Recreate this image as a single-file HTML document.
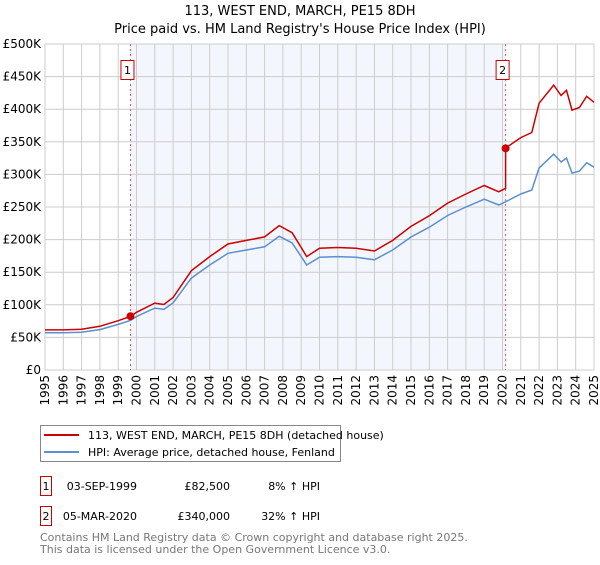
<!DOCTYPE html>
<html><head><meta charset="utf-8"><style>
body{margin:0;background:#fff;font-family:"Liberation Sans","DejaVu Sans",sans-serif;}
svg text{font-family:"DejaVu Sans","Liberation Sans",sans-serif;}
</style></head><body>
<svg id="chart" width="600" height="560" xmlns="http://www.w3.org/2000/svg">
<text x="300" y="15" text-anchor="middle" font-size="13">113, WEST END, MARCH, PE15 8DH</text>
<text x="300" y="33" text-anchor="middle" font-size="13">Price paid vs. HM Land Registry's House Price Index (HPI)</text>
<g id="plot"></g>
<g>
<rect x="40.5" y="425.5" width="300" height="36" fill="#fff" stroke="#888"/>
<line x1="44" y1="435" x2="79" y2="435" stroke="#cc0000" stroke-width="2"/>
<text x="88" y="439" font-size="11">113, WEST END, MARCH, PE15 8DH (detached house)</text>
<line x1="44" y1="452" x2="79" y2="452" stroke="#5b8fd0" stroke-width="2"/>
<text x="88" y="456" font-size="11">HPI: Average price, detached house, Fenland</text>
</g>
<g font-size="11">
<rect x="40.5" y="476.5" width="11" height="19" fill="#fff" stroke="#cc0000"/>
<text x="46" y="490" text-anchor="middle">1</text>
<text x="137" y="490" text-anchor="end">03-SEP-1999</text>
<text x="230" y="490" text-anchor="end">£82,500</text>
<text x="320" y="490" text-anchor="end">8% ↑ HPI</text>
<rect x="40.5" y="506.5" width="11" height="19" fill="#fff" stroke="#cc0000"/>
<text x="46" y="520" text-anchor="middle">2</text>
<text x="137" y="520" text-anchor="end">05-MAR-2020</text>
<text x="230" y="520" text-anchor="end">£340,000</text>
<text x="320" y="520" text-anchor="end">32% ↑ HPI</text>
</g>
<text x="40" y="541" font-size="11" fill="#777">Contains HM Land Registry data © Crown copyright and database right 2025.</text>
<text x="40" y="553" font-size="11" fill="#777">This data is licensed under the Open Government Licence v3.0.</text>
</svg>
<script>
const hpiYears=[1995,1996,1997,1998,1999,1999.67,2000,2001,2001.5,2002,2003,2004,2005,2006,2007,2007.8,2008.5,2009,2009.3,2010,2011,2012,2013,2014,2015,2016,2017,2018,2019,2019.8,2020.17,2021,2021.6,2022,2022.8,2023.2,2023.5,2023.8,2024.2,2024.6,2025];
const hpiValues=[57,57,58,62,70,76,82,95,93,103,141,161,179,184,189,205,195,174,161,173,174,173,169,184,204,219,237,250,262,253,258,270,276,310,331,319,325,302,305,318,311];
const sales=[{year:1999.67,price:82500,label:"1"},{year:2020.17,price:340000,label:"2"}];
const ratioBefore=1.08, ratioAfter=1.32;
const yTicks=[0,50,100,150,200,250,300,350,400,450,500];
const xTicks=[1995,1996,1997,1998,1999,2000,2001,2002,2003,2004,2005,2006,2007,2008,2009,2010,2011,2012,2013,2014,2015,2016,2017,2018,2019,2020,2021,2022,2023,2024,2025];

const NS="http://www.w3.org/2000/svg";
const L=45,R=594,T=44,B=370;
const x=y=>L+(y-1995)/30*(R-L);
const yv=v=>B-v/500*(B-T);
const g=document.getElementById('plot');
function mk(tag,attrs,parent){const e=document.createElementNS(NS,tag);for(const k in attrs)e.setAttribute(k,attrs[k]);(parent||g).appendChild(e);return e;}

const shade=mk('rect',{x:x(sales[0].year),y:T,width:x(sales[1].year)-x(sales[0].year),height:B-T,fill:'#eef3fc',opacity:0.7});


for(const t of yTicks){
  const l=mk('line',{x1:L,x2:R,y1:yv(t),y2:yv(t),stroke:'#cccccc','stroke-width':1});
  
  
  const tx=mk('text',{x:L-4,y:yv(t)+4,'text-anchor':'end','font-size':12});
  tx.textContent=t===0?'£0':'£'+t+'K';
  
  
}
for(const t of xTicks){
  const l=mk('line',{x1:x(t),x2:x(t),y1:T,y2:B,stroke:'#cccccc','stroke-width':1});
  
  
  const tx=mk('text',{x:0,y:0,'text-anchor':'end','font-size':12,transform:`translate(${x(t)+4},${B+5}) rotate(-90)`});
  tx.textContent=t;
  
  
}
const frame=mk('rect',{x:L,y:T,width:R-L,height:B-T,fill:'none',stroke:'#cccccc'});



for(const s of sales){
  const l=mk('line',{x1:x(s.year),x2:x(s.year),y1:T,y2:B,stroke:'#ee5555','stroke-dasharray':'2,3','stroke-width':1});
  
  
}
const hp=hpiYears.map((yy,i)=>x(yy).toFixed(1)+','+yv(hpiValues[i]).toFixed(1)).join(' ');
const hl=mk('polyline',{points:hp,fill:'none',stroke:'#5b8fd0','stroke-width':1.5});


const rp=[];
hpiYears.forEach((yy,i)=>{
  if(yy<sales[1].year) rp.push([yy,hpiValues[i]*ratioBefore]);
  else if(yy===sales[1].year){rp.push([yy,hpiValues[i]*ratioBefore]);rp.push([yy,hpiValues[i]*ratioAfter]);}
  else rp.push([yy,hpiValues[i]*ratioAfter]);
});
const rl=mk('polyline',{points:rp.map(p=>x(p[0]).toFixed(1)+','+yv(p[1]).toFixed(1)).join(' '),fill:'none',stroke:'#cc0000','stroke-width':1.5});


for(const s of sales){
  const c=mk('circle',{cx:x(s.year),cy:yv(s.price/1000),r:4,fill:'#cc0000'});
  
  
  const bx=x(s.year)-9;
  const r=mk('rect',{x:bx-0.5,y:60.5,width:13,height:19,fill:'#fff',stroke:'#cc0000'});
  
  
  const t=mk('text',{x:bx+6,y:74,'text-anchor':'middle','font-size':11});
  t.textContent=s.label;
  
  
}
</script>
</body></html>
